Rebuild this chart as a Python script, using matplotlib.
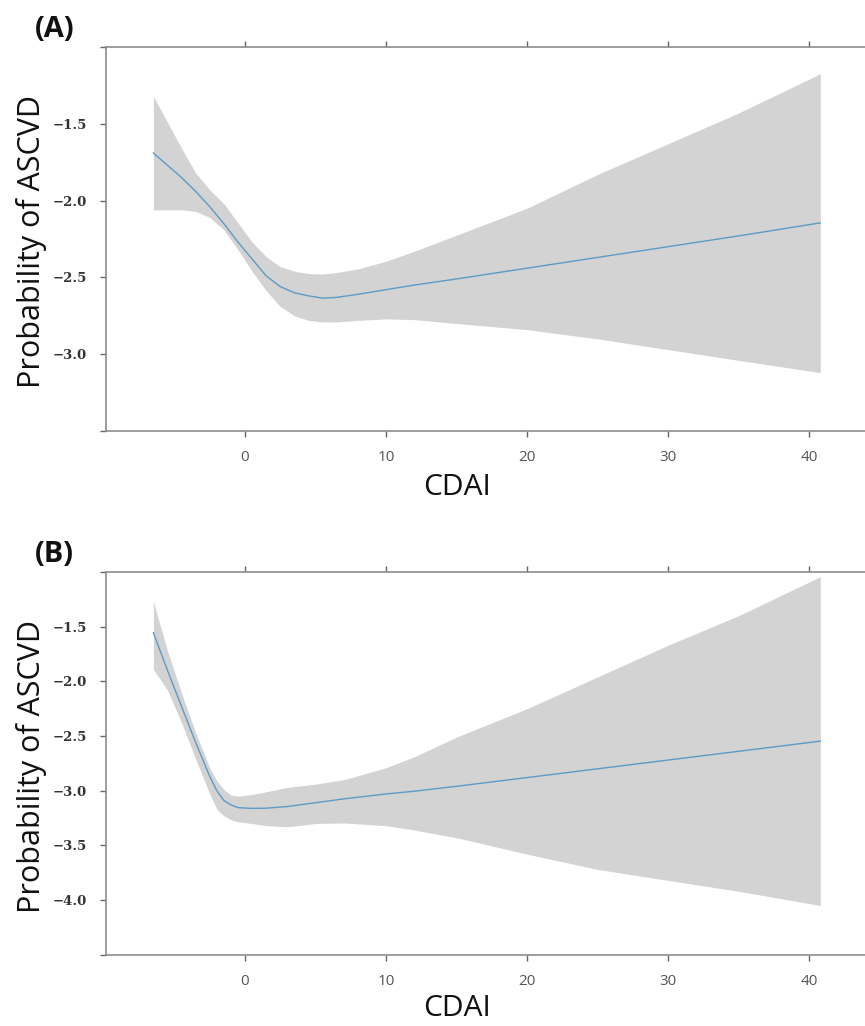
import matplotlib
matplotlib.use("Agg")
import matplotlib.pyplot as plt

# ---- Panel A: restricted cubic spline, probability of ASCVD vs CDAI ----
xa = [-6.5, -5.5, -4.5, -3.5, -2.5, -1.5, -0.5, 0.5, 1.5, 2.5, 3.5, 4.5, 5.5,
      6.5, 8, 10, 12, 15, 20, 25, 30, 35, 40.8]
fit_a = [-1.69, -1.77, -1.85, -1.94, -2.04, -2.15, -2.27, -2.38, -2.49, -2.56,
         -2.60, -2.62, -2.635, -2.63, -2.61, -2.58, -2.55, -2.51, -2.44, -2.37,
         -2.30, -2.23, -2.145]
upper_a = [-1.32, -1.49, -1.66, -1.82, -1.93, -2.02, -2.145, -2.27, -2.365, -2.43,
           -2.46, -2.475, -2.478, -2.468, -2.445, -2.395, -2.33, -2.225, -2.05,
           -1.83, -1.63, -1.43, -1.174]
lower_a = [-2.06, -2.06, -2.06, -2.07, -2.11, -2.19, -2.32, -2.46, -2.586, -2.69,
           -2.75, -2.78, -2.79, -2.79, -2.78, -2.77, -2.775, -2.80, -2.84, -2.90,
           -2.97, -3.04, -3.12]

# ---- Panel B ----
xb = [-6.5, -5.5, -4.5, -3.5, -2.5, -2.0, -1.5, -1.0, -0.5, 0.5, 1.5, 3, 5, 7,
      10, 12, 15, 20, 25, 30, 35, 40.8]
fit_b = [-1.555, -1.90, -2.23, -2.56, -2.87, -3.00, -3.09, -3.13, -3.155, -3.162,
         -3.16, -3.145, -3.11, -3.075, -3.03, -3.005, -2.96, -2.88, -2.80, -2.72,
         -2.64, -2.547]
upper_b = [-1.27, -1.72, -2.11, -2.47, -2.79, -2.91, -2.99, -3.04, -3.05, -3.035,
           -3.01, -2.97, -2.94, -2.90, -2.79, -2.69, -2.51, -2.25, -1.96, -1.67,
           -1.40, -1.043]
lower_b = [-1.89, -2.08, -2.38, -2.71, -3.03, -3.17, -3.23, -3.265, -3.285, -3.30,
           -3.32, -3.33, -3.30, -3.295, -3.32, -3.36, -3.43, -3.58, -3.72, -3.82,
           -3.92, -4.05]

xticks = [0, 10, 20, 30, 40]
yticks_a = [-3.5, -3.0, -2.5, -2.0, -1.5, -1.0]
yticks_b = [-4.5, -4.0, -3.5, -3.0, -2.5, -2.0, -1.5, -1.0]

W, H = 865, 1026
fig = plt.figure(figsize=(W / 100, H / 100), dpi=100)

LINE = "#5b9bc6"
BAND = "#d3d3d3"
SPINE = "#8c8c8c"


def make_panel(top_px, bottom_px, x, fit, lo, hi, yticks, tag, xlabel_y):
    left_px = 106
    ax = fig.add_axes([left_px / W, 1 - bottom_px / H,
                       (W - left_px) / W, (bottom_px - top_px) / H])
    ax.fill_between(x, lo, hi, color=BAND, linewidth=0)
    ax.plot(x, fit, color=LINE, linewidth=1.0)
    ax.set_xlim(-9.86, 43.97)
    ax.set_ylim(yticks[0], yticks[-1])

    ax.spines["right"].set_visible(False)
    for s in ("left", "top", "bottom"):
        ax.spines[s].set_color(SPINE)
        ax.spines[s].set_linewidth(1.2)

    ax.set_xticks(xticks)
    ax.set_xticklabels([str(v) for v in xticks], fontfamily="Open Sans",
                       fontsize=11, color="#555555")
    ax.tick_params(axis="x", which="both", top=True, bottom=True,
                   labeltop=False, direction="out", length=4,
                   width=1.0, color="#666666", pad=10)
    ax.set_yticks(yticks)
    labels = [("\u2212%.1f" % abs(v)) for v in yticks]
    labels[0] = ""
    labels[-1] = ""
    ax.set_yticklabels(labels, fontfamily="DejaVu Serif", fontweight="bold",
                       fontsize=9.5, color="#333333")
    ax.tick_params(axis="y", direction="out", length=4.5, width=1.0,
                   color="#666666", pad=9)

    ax.set_xlabel("CDAI", fontfamily="Open Sans", fontsize=21.5,
                  color="#111111", va="center")
    ax.xaxis.set_label_coords(0.462, xlabel_y)
    ax.set_ylabel("Probability of ASCVD", fontfamily="Open Sans",
                  fontsize=22, color="#111111", va="center")
    ax.yaxis.set_label_coords(-0.098, 0.493)

    fig.text(35 / W, 1 - (top_px - 17) / H, tag, fontfamily="Open Sans",
             fontweight="bold", fontsize=21, va="center", ha="left",
             color="#111111")
    return ax


make_panel(47, 431, xa, fit_a, lower_a, upper_a, yticks_a, "(A)", -0.148)
make_panel(572, 954.7, xb, fit_b, lower_b, upper_b, yticks_b, "(B)", -0.141)

fig.savefig("out.png", dpi=100)
